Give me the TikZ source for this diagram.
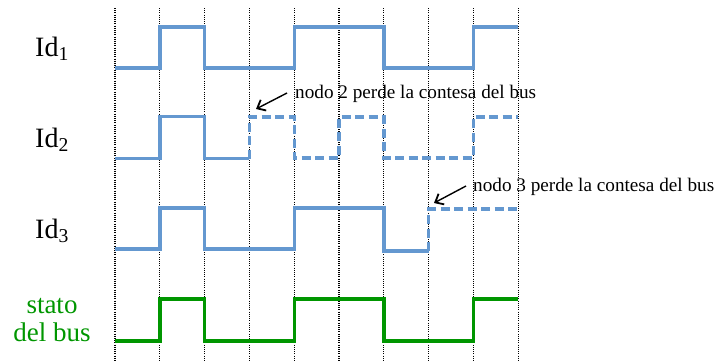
\documentclass[tikz,border=0pt]{standalone}
\usepackage{fontspec}
\setmainfont{Liberation Serif}
\usetikzlibrary{arrows.meta}
\definecolor{wblue}{RGB}{100,152,208}
\definecolor{wgreen}{RGB}{0,150,0}
\begin{document}
\begin{tikzpicture}[x=1pt,y=-1pt,
  grid/.style={black,line width=1.1pt,dash pattern=on 1pt off 1.2pt},
  wave/.style={wblue,line width=3.4pt,line join=miter},
  wavedash/.style={wave,dash pattern=on 9pt off 4.5pt},
  buswave/.style={wgreen,line width=3.4pt,line join=miter},
  idlabel/.style={anchor=base west,inner sep=0pt,font=\fontsize{28}{30}\selectfont},
  note/.style={anchor=base west,inner sep=0pt,font=\fontsize{19.2}{22}\selectfont},
  pointer/.style={black,line width=1.4pt,-{Straight Barb[length=7pt,width=12pt,line width=1.8pt]}}]
\useasboundingbox (0,0) rectangle (716,362);
% grid
\foreach \i in {0,...,9}{
  \draw[grid] ({115+44.8*\i},8) -- ({115+44.8*\i},362);
}
% Id1
\draw[wave] (115,68) -- (159.8,68) -- (159.8,27) -- (204.6,27) -- (204.6,68) -- (294.2,68) -- (294.2,27) -- (383.8,27) -- (383.8,68) -- (473.4,68) -- (473.4,27) -- (518.2,27);
% Id2
\draw[wave] (115,158.7) -- (159.8,158.7) -- (159.8,116.7) -- (204.6,116.7) -- (204.6,158.7) -- (249.4,158.7);
\draw[wavedash] (249.4,158.7) -- (249.4,117) -- (294.2,117) -- (294.2,158) -- (339,158) -- (339,117) -- (383.8,117) -- (383.8,158) -- (473.4,158) -- (473.4,117) -- (518.2,117);
% Id3
\draw[wave] (115,249) -- (159.8,249) -- (159.8,208) -- (204.6,208) -- (204.6,249) -- (294.2,249) -- (294.2,208) -- (383.8,208) -- (383.8,251) -- (428.6,251);
\draw[wavedash] (428.6,251) -- (428.6,209) -- (518.2,209);
% bus
\draw[buswave] (115,341) -- (159.8,341) -- (159.8,299) -- (204.6,299) -- (204.6,341) -- (294.2,341) -- (294.2,299) -- (383.8,299) -- (383.8,341) -- (473.4,341) -- (473.4,299) -- (518.2,299);
% labels
\node[idlabel] (id1) at (35,56) {Id\textsubscript{1}};
\node[idlabel] (id2) at (35,147) {Id\textsubscript{2}};
\node[idlabel] (id3) at (35,238) {Id\textsubscript{3}};
\node[align=center,inner sep=0pt,text=wgreen,font=\fontsize{27}{28}\selectfont] (bus) at (52,320) {stato\\del bus};
% notes
\node[note] (n2) at (295,98) {nodo 2 perde la contesa del bus};
\node[note] (n3) at (473,191) {nodo 3 perde la contesa del bus};
\coordinate (a2s) at (287,93);
\coordinate (a2e) at (256,109);
\coordinate (a3s) at (466,186);
\coordinate (a3e) at (434,203);
\draw[pointer] (a2s) -- (a2e);
\draw[pointer] (a3s) -- (a3e);
\end{tikzpicture}
\end{document}
